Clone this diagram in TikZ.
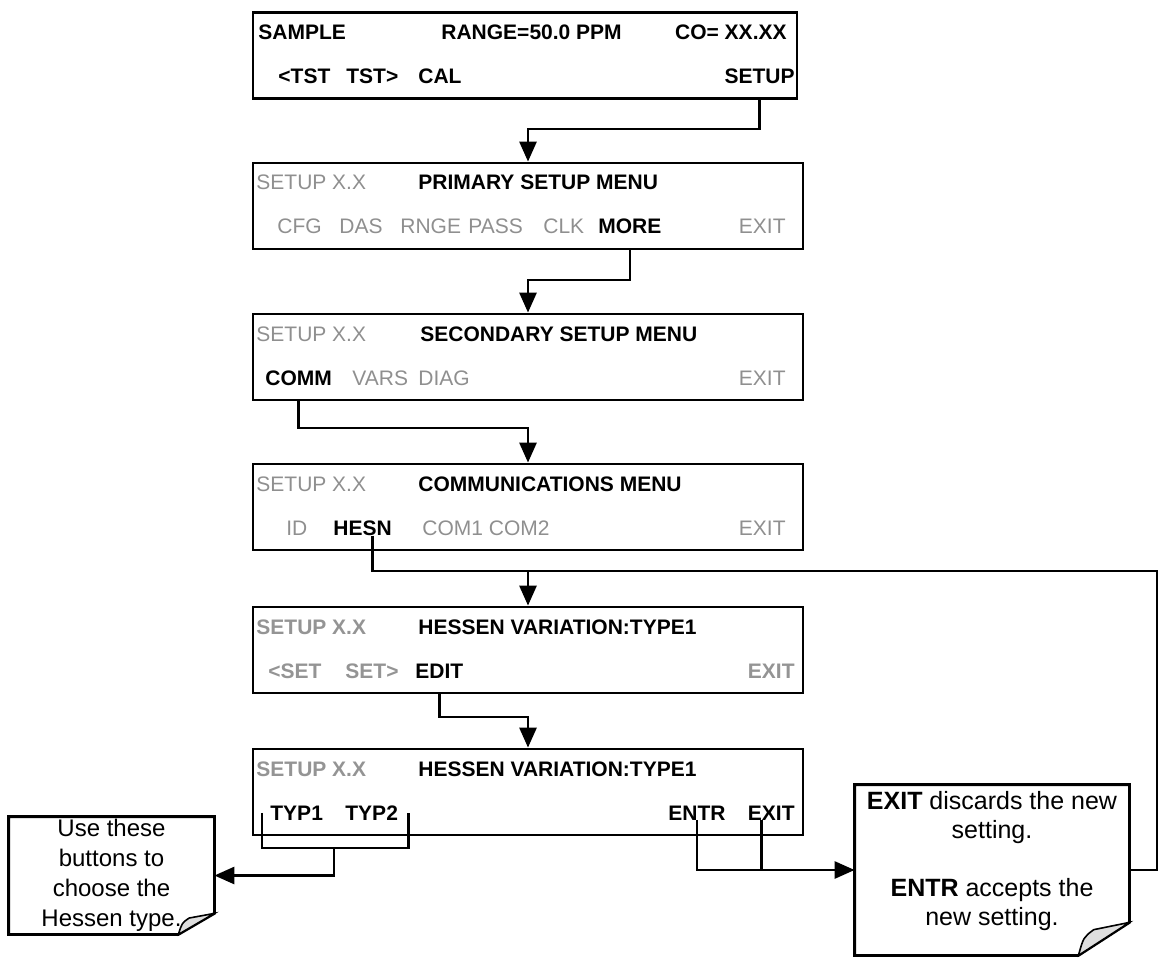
\documentclass[tikz,border=0pt]{standalone}
\usepackage{fontspec}
\setmainfont{Liberation Sans}
\usetikzlibrary{arrows.meta}
\tikzset{
  kscreen/.style={draw, line width=1.4pt, minimum width=275pt, minimum height=43pt, inner sep=0pt},
  kkey/.style={inner sep=0pt, anchor=base west, font=\fontsize{10.5}{12}\selectfont\bfseries},
  kdim/.style={kkey, font=\fontsize{10.5}{12}\selectfont, text=black!44},
  kdimb/.style={kkey, text=black!42},
  knote/.style={inner sep=0pt, align=center, font=\fontsize{12}{15}\selectfont},
  flow/.style={-{Triangle[length=10pt, width=8.5pt]}, line width=1.4pt},
  link/.style={line width=1.4pt},
}
\newcommand{\dogear}[3]{%
  \draw[link] (#1.north west) -- (#1.north east) -- ([shift={(0,-#3)}]#1.south east)
    -- ([shift={(-#2,0)}]#1.south east) -- (#1.south west) -- cycle;
  \draw[line width=0.8pt, fill=black!13] ([shift={(0,-#3)}]#1.south east)
    -- ([shift={(-0.7*#2,-0.78*#3)}]#1.south east)
    .. controls ([shift={(-0.9*#2,-0.55*#3)}]#1.south east) .. ([shift={(-#2,0)}]#1.south east) -- cycle;
}

\begin{document}
\begin{tikzpicture}[x=0.5pt, y=-0.5pt]
    \useasboundingbox (0,0) rectangle (1159,962);
    \node[kscreen, minimum width=272pt] (main) at (525,55.5) {};
    \node[kscreen] (primary) at (528,206) {};
    \node[kscreen] (secondary) at (528,357) {};
    \node[kscreen] (comms) at (528,507) {};
    \node[kscreen] (hvar) at (528,650) {};
    \node[kscreen] (htype) at (528,792) {};

    \node[kkey] (sample) at (258,40) {SAMPLE};
    \node[kkey] (range) at (441,40) {RANGE=50.0 PPM};
    \node[kkey, anchor=base east] (conc) at (787,40) {CO= XX.XX};
    \node[kkey] (tstl) at (278,84) {<TST};
    \node[kkey] (tstr) at (346,84) {TST>};
    \node[kkey] (cal) at (418,84) {CAL};
    \node[kkey, anchor=base east] (setupk) at (795,84) {SETUP};

    \node[kdim] (ver2) at (256,190) {SETUP X.X};
    \node[kkey] (title2) at (418,190) {PRIMARY SETUP MENU};
    \node[kdim] (cfg) at (277,234) {CFG};
    \node[kdim] (das) at (339,234) {DAS};
    \node[kdim] (rnge) at (400,234) {RNGE};
    \node[kdim] (pass) at (468,234) {PASS};
    \node[kdim] (clk) at (543,234) {CLK};
    \node[kkey] (more) at (598,234) {MORE};
    \node[kdim, anchor=base east] (exit2) at (786,234) {EXIT};

    \node[kdim] (ver3) at (256,341) {SETUP X.X};
    \node[kkey] (title3) at (420,341) {SECONDARY SETUP MENU};
    \node[kkey] (comm) at (265,385) {COMM};
    \node[kdim] (vars) at (352,385) {VARS};
    \node[kdim] (diag) at (418,385) {DIAG};
    \node[kdim, anchor=base east] (exit3) at (786,385) {EXIT};

    \node[kdim] (ver4) at (256,491) {SETUP X.X};
    \node[kkey] (title4) at (418,491) {COMMUNICATIONS MENU};
    \node[kdim] (id) at (286,535) {ID};
    \node[kkey] (hesn) at (333,535) {HESN};
    \node[kdim] (ports) at (422,535) {COM1 COM2};
    \node[kdim, anchor=base east] (exit4) at (786,535) {EXIT};

    \node[kdimb] (ver5) at (256,634) {SETUP X.X};
    \node[kkey] (title5) at (418,634) {HESSEN VARIATION:TYPE1};
    \node[kdimb] (setl) at (268,678) {<SET};
    \node[kdimb] (setr) at (345,678) {SET>};
    \node[kkey] (edit) at (415,678) {EDIT};
    \node[kdimb, anchor=base east] (exit5) at (795,678) {EXIT};

    \node[kdimb] (ver6) at (256,776) {SETUP X.X};
    \node[kkey] (title6) at (418,776) {HESSEN VARIATION:TYPE1};
    \node[kkey] (typ1) at (270,820) {TYP1};
    \node[kkey] (typ2) at (345,820) {TYP2};
    \node[kkey] (entr) at (668,820) {ENTR};
    \node[kkey, anchor=base east] (exitk) at (795,820) {EXIT};

    \node[knote, minimum width=102.5pt, minimum height=58.5pt] (usenote) at (111.5,875.5) {Use these\\buttons to\\choose the\\Hessen type.};
    \dogear{usenote}{36}{21}
    \node[knote, minimum width=137pt, minimum height=85pt] (exitnote) at (992,870) {};
    \node[knote, font=\fontsize{12.5}{14.5}\selectfont] (exittext) at (992,861) {\textbf{EXIT} discards the new\\setting.\\\mbox{}\\\textbf{ENTR} accepts the\\new setting.};
    \dogear{exitnote}{51}{33}

    \coordinate (j1) at (528,129);
    \coordinate (j2) at (528,280);
    \coordinate (j3) at (528,428);
    \coordinate (j4) at (528,571);
    \coordinate (loop) at (1157,571);
    \coordinate (j5) at (528,717);
    \coordinate (tbar) at (334,848);
    \draw[flow] (setupk |- main.south) |- (j1) -- (primary.north);
    \draw[flow] (more |- primary.south) |- (j2) -- (secondary.north);
    \draw[flow] (comm |- secondary.south) |- (j3) -- (comms.north);
    \draw[link] ([xshift=5pt]hesn.south) |- (loop) |- (exitnote.east);
    \draw[flow] (j4) -- (hvar.north);
    \draw[flow] (edit |- hvar.south) |- (j5) -- (htype.north);
    \draw[link] ([xshift=-4pt]typ1.west) |- (tbar) -| ([xshift=5pt]typ2.east);
    \draw[flow] (tbar) |- (usenote.east);
    \draw[flow] (entr.south) |- (exitnote.west);
    \draw[link] ([xshift=-5pt]exitk.south) -- ([xshift=-5pt]exitk.south |- exitnote.west);
\end{tikzpicture}
\end{document}
